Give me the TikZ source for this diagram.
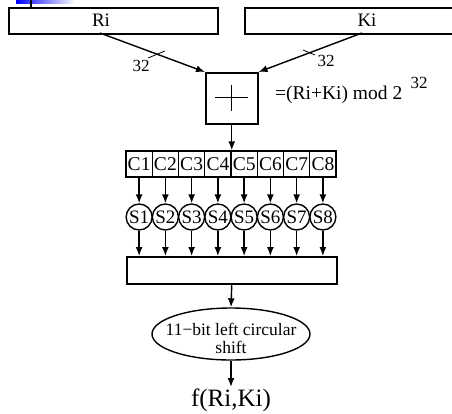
\documentclass[tikz,border=0pt]{standalone}
\usepackage{fontspec}
\setmainfont{Liberation Serif}
\usetikzlibrary{arrows.meta,shapes.geometric}
\begin{document}
\begin{tikzpicture}[x=1pt,y=-1pt,
  box/.style={draw, line width=1.5pt, inner sep=0pt, anchor=north west},
  arr/.style={-{Latex[length=9pt,width=7pt]}, line width=1.4pt},
  txt/.style={font=\fontsize{19}{19}\selectfont, inner sep=0pt},
  small/.style={font=\fontsize{17}{17}\selectfont, inner sep=0pt},
  cell/.style={draw, line width=1.4pt, minimum width=26.25pt, minimum height=26pt, inner sep=0pt, font=\fontsize{19.5}{19.5}\selectfont},
  sbox/.style={draw, circle, line width=1.4pt, minimum size=26pt, inner sep=0pt, font=\fontsize{19}{19}\selectfont},
  tick/.style={line width=0.8pt}]
\clip (0,0) rectangle (452,413);
% top-left decoration
\shade[left color=blue, right color=white] (16,0) rectangle (75,3);
\coordinate (tt) at (31,0);
\coordinate (tb) at (31,8);
\draw[line width=1.4pt] (tt) -- (tb);
% input boxes
\node[box, minimum width=209pt, minimum height=26pt] (Ri) at (8,7) {};
\node[txt] (Rit) at (101,20) {Ri};
\node[box, minimum width=246pt, minimum height=26pt] (Ki) at (244,7) {};
\node[txt] (Kit) at (367,20) {Ki};
% adder
\node[box, minimum width=52pt, minimum height=51pt] (add) at (205,72) {};
\draw[line width=1.2pt] (215,97.5) -- (248,97.5) (231.5,85) -- (231.5,111);
\node[anchor=west, inner sep=0pt, font=\fontsize{19.5}{19.5}\selectfont] (eq) at (275,95) {=(Ri+Ki) mod 2};
\node[small] (sup) at (419,83) {32};
% inputs to adder
\coordinate (ra) at (100,33);
\coordinate (ka) at (362,33);
\draw[arr] (ra) -- (add.north west);
\draw[arr] (ka) -- (add.north east);
\coordinate (t1a) at (148,58); \coordinate (t1b) at (165,51);
\draw[tick] (t1a) -- (t1b);
\coordinate (t2a) at (303,50); \coordinate (t2b) at (315,55);
\draw[tick] (t2a) -- (t2b);
\node[small] (n1) at (141,66) {32};
\node[small] (n2) at (326,61) {32};
% C cells and S boxes
\foreach \i in {1,...,8} {
  \node[cell] (C\i) at ({139.125+26.25*(\i-1)},164) {C\i};
  \node[sbox] (S\i) at ({139.125+26.25*(\i-1)},217) {S\i};
  \draw[arr] (C\i.south) -- (S\i.north);
}
\node[box, minimum width=210pt, minimum height=27pt] (P) at (126,256) {};
\foreach \i in {1,...,8} {
  \draw[arr] (S\i.south) -- (S\i.south |- P.north);
}
\draw[arr] (add.south) -- (add.south |- C1.north);
% shift
\node[draw, ellipse, line width=1.4pt, minimum width=158pt, minimum height=52pt, inner sep=0pt] (E) at (231,334) {};
\node[align=center, inner sep=0pt, font=\fontsize{17.5}{18}\selectfont] (Et) at (231,338) {11−bit left circular\\shift};
\draw[arr] (P.south) -- (E.north);
\node[inner sep=0pt, font=\fontsize{25}{25}\selectfont] (f) at (231,400) {f(Ri,Ki)};
\coordinate (fa) at (231,387);
\draw[arr] (E.south) -- (fa);
\end{tikzpicture}
\end{document}
